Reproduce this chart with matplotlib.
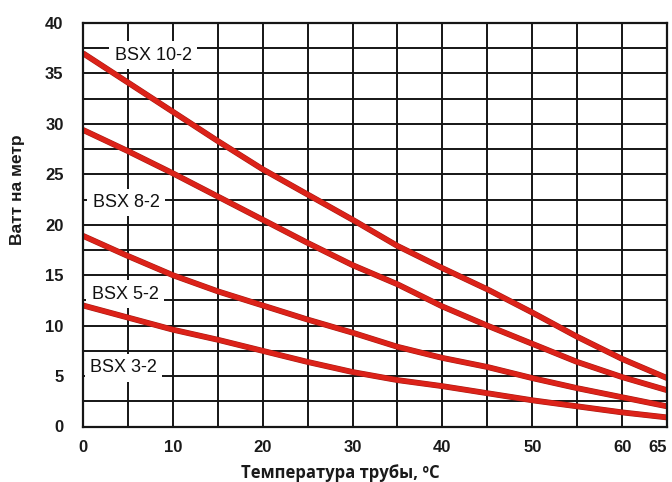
import numpy as np
import matplotlib.pyplot as plt
import matplotlib.patheffects as pe

# ── data ────────────────────────────────────────────────────────
temp = [0, 5, 10, 15, 20, 25, 30, 35, 40, 45, 50, 55, 60, 65]
bsx_10_2 = [37.0, 34.1, 31.2, 28.3, 25.5, 23.0, 20.5, 17.9, 15.7, 13.6, 11.3, 8.9, 6.7, 4.8]
bsx_8_2 = [29.4, 27.3, 25.1, 22.8, 20.5, 18.2, 16.0, 14.1, 11.9, 10.0, 8.2, 6.4, 4.9, 3.6]
bsx_5_2 = [18.9, 16.9, 15.0, 13.4, 12.0, 10.6, 9.3, 7.9, 6.8, 5.9, 4.8, 3.8, 2.9, 2.0]
bsx_3_2 = [12.0, 10.8, 9.6, 8.6, 7.5, 6.4, 5.4, 4.6, 4.0, 3.3, 2.6, 2.0, 1.4, 0.9]

series = [bsx_10_2, bsx_8_2, bsx_5_2, bsx_3_2]
names = ['BSX 10-2', 'BSX 8-2', 'BSX 5-2', 'BSX 3-2']
label_pos = [(7.8, 36.8), (4.8, 22.2), (4.7, 13.1), (4.5, 5.8)]

x_ticks = [0, 10, 20, 30, 40, 50, 60, 65]
y_ticks = [0, 5, 10, 15, 20, 25, 30, 35, 40]

RED = '#dc2219'
GRID = '#151515'

fig = plt.figure(figsize=(6.72, 4.82), dpi=100)
ax = fig.add_axes([83 / 672, 1 - 426.5 / 482, (667 - 83) / 672, (426.5 - 23) / 482])

ax.set_xlim(0, 65)
ax.set_ylim(0, 40)

# grid: every 5 degrees, every 2.5 W/m
for xv in np.arange(5, 65, 5):
    ax.axvline(xv, color=GRID, lw=1.4, zorder=1)
for yv in np.arange(2.5, 40, 2.5):
    ax.axhline(yv, color=GRID, lw=1.4, zorder=1)

for s in ax.spines.values():
    s.set_color(GRID)
    s.set_linewidth(1.6)
    s.set_zorder(6)

for ys in series:
    ax.plot(temp, ys, color=RED, lw=3.4, solid_capstyle='butt', zorder=4,
            path_effects=[pe.Stroke(linewidth=4.2, foreground='#a81a12'), pe.Normal()])

for name, (lx, ly) in zip(names, label_pos):
    ax.text(lx, ly, name, fontsize=13, family='Liberation Sans', color='#111111',
            ha='center', va='center', zorder=3,
            bbox=dict(boxstyle='square,pad=0.3', fc='white', ec='none'))

ax.set_xticks(x_ticks)
ax.set_yticks(y_ticks)
ax.tick_params(length=0)
ax.tick_params(axis='y', pad=14)
ax.tick_params(axis='x', pad=10)
for lab in ax.get_xticklabels() + ax.get_yticklabels():
    lab.set_fontfamily('Liberation Sans')
    lab.set_fontweight('bold')
    lab.set_fontsize(12)
    lab.set_color('#1a1a1a')
# last x label sits inside the right edge, as in the original
ax.get_xticklabels()[-1].set_horizontalalignment('right')
ax.get_xticklabels()[-2].set_x(60.7)

fig.text(340 / 672, 1 - 473 / 482, 'Температура трубы, ºC', family='Open Sans',
         fontweight='bold', fontsize=12, ha='center', va='center', color='#1a1a1a')
fig.text(17.5 / 672, 1 - 190 / 482, 'Ватт на метр', family='Liberation Sans',
         fontweight='bold', fontsize=12.5, rotation=90, ha='center', va='center',
         color='#1a1a1a')

fig.savefig('out.png', dpi=100, facecolor='white')
